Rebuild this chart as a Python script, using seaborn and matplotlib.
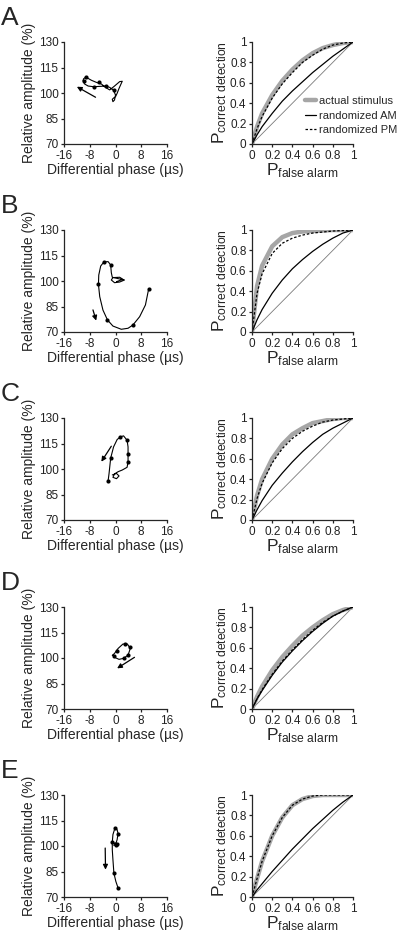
import matplotlib
matplotlib.use('Agg')
import seaborn as sns
import matplotlib.pyplot as plt

# ROC curves
p_fa = [0, 0.05, 0.1, 0.2, 0.3, 0.4, 0.5, 0.6, 0.7, 0.8, 0.9, 1.0]

roc_actual_A = [0, 0.17, 0.30, 0.48, 0.62, 0.73, 0.82, 0.89, 0.94, 0.97, 0.99, 1]
roc_am_A = [0, 0.09, 0.17, 0.30, 0.42, 0.52, 0.61, 0.70, 0.78, 0.86, 0.93, 1]
roc_pm_A = [0, 0.15, 0.27, 0.45, 0.59, 0.70, 0.80, 0.87, 0.93, 0.97, 0.99, 1]

roc_actual_B = [0, 0.45, 0.65, 0.84, 0.93, 0.97, 0.985, 0.99, 0.995, 1, 1, 1]
roc_am_B = [0, 0.12, 0.22, 0.38, 0.51, 0.62, 0.71, 0.79, 0.86, 0.92, 0.97, 1]
roc_pm_B = [0, 0.38, 0.57, 0.77, 0.87, 0.92, 0.95, 0.97, 0.98, 0.99, 0.995, 1]

roc_actual_C = [0, 0.24, 0.40, 0.60, 0.74, 0.84, 0.90, 0.95, 0.97, 0.99, 1.0, 1]
roc_am_C = [0, 0.10, 0.19, 0.34, 0.46, 0.57, 0.67, 0.76, 0.84, 0.90, 0.95, 1]
roc_pm_C = [0, 0.21, 0.36, 0.56, 0.70, 0.80, 0.87, 0.92, 0.96, 0.98, 0.99, 1]

roc_actual_D = [0, 0.12, 0.22, 0.38, 0.51, 0.62, 0.72, 0.80, 0.87, 0.93, 0.97, 1]
roc_am_D = [0, 0.10, 0.18, 0.33, 0.46, 0.57, 0.67, 0.76, 0.84, 0.91, 0.96, 1]
roc_pm_D = [0, 0.10, 0.19, 0.34, 0.47, 0.58, 0.68, 0.77, 0.85, 0.91, 0.96, 1]

roc_actual_E = [0, 0.18, 0.35, 0.60, 0.78, 0.90, 0.96, 0.99, 1, 1, 1, 1]
roc_am_E = [0, 0.07, 0.13, 0.25, 0.36, 0.47, 0.57, 0.67, 0.76, 0.85, 0.93, 1]
roc_pm_E = [0, 0.18, 0.35, 0.60, 0.78, 0.90, 0.96, 0.99, 1, 1, 1, 1]

# trajectories (differential phase in us, relative amplitude in %)
traj_x_A = [0.0, 0.5, 1.1, 1.9, 2.1, 1.3, -0.3, -1.8, -3.1, -4.4, -6.0, -7.5, -8.9, -9.3, -9.9,
            -10.1, -9.6, -8.5, -6.8, -4.9, -3.0, -1.8, -0.6, 0.0, -0.3, -0.8, -1.0, -0.3]
traj_y_A = [97.8, 99.8, 102.7, 106.1, 106.9, 106.7, 104.1, 101.8, 103.3, 105.3, 106.3, 107.5, 109.0, 109.2, 108.4,
            107.3, 105.3, 104.1, 103.7, 103.9, 104.1, 103.3, 101.6, 98.8, 95.9, 94.9, 96.3, 97.5]
dot_x_A = [-9.1, -9.8, -5.2, -6.7, -3.0, -0.6]
dot_y_A = [109.2, 107.3, 106.3, 103.7, 104.1, 101.6]

traj_x_B = [0.3, 2.3, 1.3, -0.8, -1.3, -0.3, 1.3, 2.8, 0.8, -1.0, -1.3, -1.5, -2.3, -3.6, -4.6,
            -5.2, -5.3, -4.9, -3.9, -2.5, -0.8, 1.8, 3.9, 5.4, 7.5, 9.3, 10.3]
traj_y_B = [99.6, 101.0, 102.2, 102.0, 100.6, 99.0, 99.4, 100.6, 101.4, 102.2, 104.9, 109.4, 111.4, 111.2, 108.8,
            103.5, 98.0, 90.8, 82.9, 77.1, 73.5, 71.6, 72.2, 74.1, 79.0, 85.9, 95.3]
dot_x_B = [-1.5, -3.6, -5.3, -2.5, 5.4, 10.3]
dot_y_B = [109.4, 111.2, 98.0, 77.1, 74.1, 95.3]

traj_x_C = [-2.3, -2.0, -1.5, -0.6, 0.5, 1.5, 2.5, 3.6, 3.9, 3.9, 3.9, 3.6, 2.1, 0.8, -0.3,
            -0.8, 0.3, 1.1, 0.3, -1.0]
traj_y_C = [93.0, 97.4, 106.4, 113.0, 117.3, 118.9, 119.5, 116.9, 113.0, 108.8, 104.3, 101.0, 99.4, 98.4, 97.1,
            95.1, 94.3, 95.9, 97.4, 96.5]
dot_x_C = [1.5, 3.6, 3.9, 3.9, -1.5, -2.3]
dot_y_C = [118.9, 116.9, 108.8, 104.3, 106.4, 93.0]

traj_x_D = [-0.8, -0.3, 1.1, 2.5, 3.9, 4.6, 3.7, 2.3, 0.8, -0.3, -1.0]
traj_y_D = [101.7, 100.4, 99.2, 99.8, 101.7, 105.6, 108.2, 108.2, 105.6, 102.7, 101.5]
dot_x_D = [-0.5, 0.5, 2.8, 4.4, 3.9, 2.5]
dot_y_D = [101.3, 104.3, 108.0, 106.6, 101.5, 99.8]

traj_x_E = [0.8, 0.1, -0.5, -0.8, -1.0, -1.0, -0.8, -0.2, 0.5, 0.8, 0.5, 0.0, -0.5, -0.3, 0.5]
traj_y_E = [75.3, 79.2, 84.1, 92.0, 97.8, 102.2, 106.7, 110.4, 109.6, 107.3, 103.7, 100.8, 100.2, 101.8, 101.4]
dot_x_E = [-0.2, 0.8, -1.0, 0.0, 0.5, -0.5, 0.8]
dot_y_E = [110.4, 107.3, 102.2, 100.8, 101.4, 84.1, 75.3]

# arrows: (tail x, tail y, head x, head y)
arrow_A = (-6.2, 97.5, -12.0, 103.7)
arrow_B = (-7.0, 83.0, -6.0, 76.7)
arrow_C = (-1.3, 113.4, -4.4, 104.3)
arrow_D = (5.9, 100.4, 0.5, 93.9)
arrow_E = (-3.2, 98.8, -3.1, 86.1)

letters = ['A', 'B', 'C', 'D', 'E']
panels = [
    (traj_x_A, traj_y_A, dot_x_A, dot_y_A, arrow_A, roc_actual_A, roc_am_A, roc_pm_A),
    (traj_x_B, traj_y_B, dot_x_B, dot_y_B, arrow_B, roc_actual_B, roc_am_B, roc_pm_B),
    (traj_x_C, traj_y_C, dot_x_C, dot_y_C, arrow_C, roc_actual_C, roc_am_C, roc_pm_C),
    (traj_x_D, traj_y_D, dot_x_D, dot_y_D, arrow_D, roc_actual_D, roc_am_D, roc_pm_D),
    (traj_x_E, traj_y_E, dot_x_E, dot_y_E, arrow_E, roc_actual_E, roc_am_E, roc_pm_E),
]

sns.set_style('ticks')
plt.rcParams['font.family'] = ['Liberation Sans', 'DejaVu Sans']
plt.rcParams['mathtext.fontset'] = 'custom'
plt.rcParams['mathtext.rm'] = 'Liberation Sans'
plt.rcParams['mathtext.it'] = 'Liberation Sans:italic'
plt.rcParams['axes.unicode_minus'] = False
plt.rcParams['axes.linewidth'] = 0.9
plt.rcParams['xtick.major.size'] = 2.5
plt.rcParams['ytick.major.size'] = 2.5
plt.rcParams['xtick.major.width'] = 0.9
plt.rcParams['ytick.major.width'] = 0.9
plt.rcParams['xtick.major.pad'] = 1.5
plt.rcParams['ytick.major.pad'] = 1.5

W, H = 400, 939
fig = plt.figure(figsize=(W / 100, H / 100), dpi=100)

tops = [42, 230, 418, 607, 795]
ah = 102

for i, (tx, ty, dx, dy, arr, act, am, pm) in enumerate(panels):
    top = tops[i]
    bottom = 1 - (top + ah) / H

    # trajectory panel
    ax = fig.add_axes([64 / W, bottom, 103 / W, ah / H])
    sns.lineplot(x=tx, y=ty, sort=False, estimator=None, color='black', linewidth=0.8, ax=ax)
    sns.scatterplot(x=dx, y=dy, color='black', s=9, linewidth=0, ax=ax, zorder=3)
    ax.annotate('', xy=(arr[2], arr[3]), xytext=(arr[0], arr[1]),
                arrowprops=dict(arrowstyle='-|>', color='black', lw=0.9,
                                mutation_scale=7, shrinkA=0, shrinkB=0))
    ax.set_xlim(-16, 16)
    ax.set_ylim(70, 130)
    ax.set_xticks([-16, -8, 0, 8, 16])
    ax.set_yticks([70, 85, 100, 115, 130])
    ax.tick_params(labelsize=8.5, colors='#222222')
    ax.set_xlabel('Differential phase (µs)', fontsize=10, labelpad=1)
    ax.set_ylabel('Relative amplitude (%)', fontsize=10, labelpad=2)
    sns.despine(ax=ax)

    # ROC panel
    ax2 = fig.add_axes([252 / W, bottom, 101 / W, ah / H])
    ax2.plot([0, 1], [0, 1], color='#7a7a7a', linewidth=0.6)
    sns.lineplot(x=p_fa, y=act, color='#a6a6a6', linewidth=3.2, ax=ax2,
                 label='actual stimulus' if i == 0 else None)
    sns.lineplot(x=p_fa, y=am, color='black', linewidth=0.9, ax=ax2,
                 label='randomized AM' if i == 0 else None)
    sns.lineplot(x=p_fa, y=pm, color='black', linewidth=0.9, ax=ax2,
                 label='randomized PM' if i == 0 else None)
    ax2.lines[-1].set_dashes([2, 1.5])
    ax2.set_xlim(0, 1)
    ax2.set_ylim(0, 1)
    ticks = [0, 0.2, 0.4, 0.6, 0.8, 1]
    tick_labels = ['0', '0.2', '0.4', '0.6', '0.8', '1']
    ax2.set_xticks(ticks)
    ax2.set_xticklabels(tick_labels)
    ax2.set_yticks(ticks)
    ax2.set_yticklabels(tick_labels)
    ax2.tick_params(labelsize=8.5, colors='#222222')
    ax2.set_xlabel(r'P$_{\mathrm{false\ alarm}}$', fontsize=12.5, labelpad=0)
    ax2.set_ylabel(r'P$_{\mathrm{correct\ detection}}$', fontsize=12.5, labelpad=1)
    sns.despine(ax=ax2)
    if i == 0:
        leg = ax2.legend(loc='upper left', bbox_to_anchor=(0.52, 0.47), frameon=False,
                         fontsize=8, handlelength=1.0, handletextpad=0.3,
                         labelspacing=0.4, borderaxespad=0, borderpad=0)
        leg.get_lines()[2].set_dashes([2, 1.5])
    else:
        if ax2.get_legend() is not None:
            ax2.get_legend().remove()

    fig.text(1 / W, 1 - (top - 17) / H, letters[i], fontsize=19, va='baseline', ha='left')

fig.savefig('out.png', dpi=100)
